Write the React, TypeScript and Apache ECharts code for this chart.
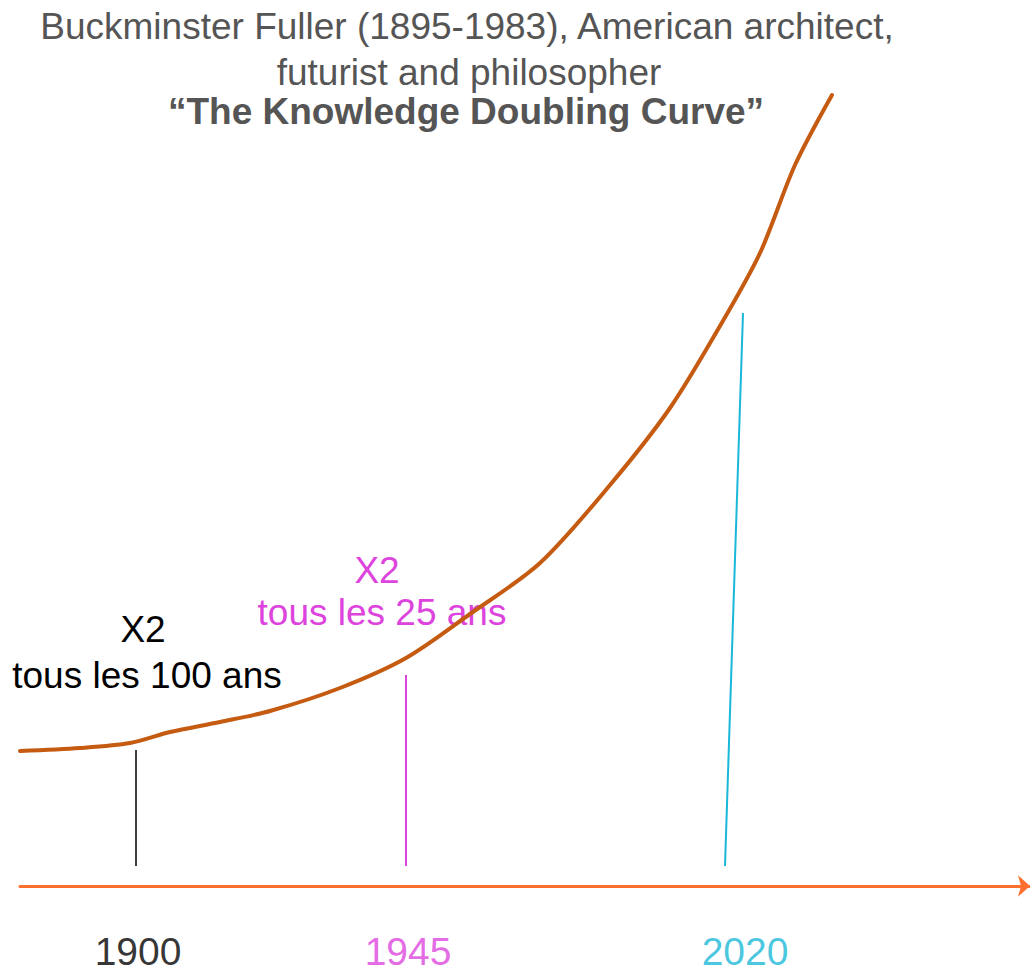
import React, { useEffect, useRef } from "react";
import * as echarts from "echarts";

// Knowledge curve (x: progress units, y: knowledge level above the time axis)
const curveX = [0, 60, 110, 150, 200, 250, 320, 386, 450, 520, 590, 650, 700, 740, 775, 812];
const curveY = [135, 138, 143, 154, 164, 175, 198, 228, 272, 323, 401, 478, 560, 633, 721, 791];

// Year markers
const years = ["1900", "1945", "2020"];
const markerBaseX = [116, 386, 705];
const markerTopX = [116, 386, 723];
const markerBaseY = [20, 20, 20];
const markerTopY = [136, 211, 573];
const yearLabelX = [118, 388, 725];
const yearLabelY = [-65, -65, -65];
const yearColors = ["#000000", "#dd44dd", "#1ab8d8"];

const titleLines = [
  "Buckminster Fuller (1895-1983), American architect,",
  "futurist and philosopher",
];
const subtitle = "\u201CThe Knowledge Doubling Curve\u201D";
const notes = [
  { x2: "X2", text: "tous les 100 ans", color: "#000000" },
  { x2: "X2", text: "tous les 25 ans", color: "#dd44dd" },
];

export default function App() {
  const ref = useRef<HTMLDivElement>(null);
  useEffect(() => {
    if (!ref.current) return;
    const chart = echarts.init(ref.current, undefined, { renderer: "svg" });
    const font = '"Liberation Sans", Arial, sans-serif';
    const txt = (text: string, x: number, y: number, size: number, fill: string, weight = "normal") => ({
      type: "text",
      x,
      y,
      z: 1,
      style: {
        text,
        fontSize: size,
        fontFamily: font,
        fontWeight: weight,
        fill,
        align: "center",
        verticalAlign: "middle",
        textAlign: "center",
        textVerticalAlign: "middle",
      },
    });
    const markerSeries = years.map((y, i) => ({
      type: "line",
      name: y,
      data: [
        [markerBaseX[i], markerBaseY[i]],
        [markerTopX[i], markerTopY[i]],
      ],
      symbol: "none",
      lineStyle: { color: yearColors[i], width: i === 0 ? 1.5 : 2 },
      z: 1,
      silent: true,
    }));
    chart.setOption({
      animation: false,
      grid: { left: 20, right: 0, top: 0, bottom: 0 },
      xAxis: {
        type: "value",
        min: 0,
        max: 1010,
        axisLine: {
          show: true,
          onZero: true,
          symbol: ["none", "arrow"],
          symbolSize: [16, 12],
          lineStyle: { color: "#ff7030", width: 3 },
        },
        axisTick: { show: false },
        axisLabel: { show: false },
        splitLine: { show: false },
      },
      yAxis: {
        type: "value",
        min: -86,
        max: 886,
        show: false,
        splitLine: { show: false },
      },
      graphic: [
        txt(titleLines[0], 467, 26, 37, "#555555"),
        txt(titleLines[1], 469, 72, 37, "#555555"),
        txt(subtitle, 466, 111, 37, "#555555", "bold"),
        txt(notes[0].x2, 143, 629, 37, notes[0].color),
        txt(notes[0].text, 147, 675, 37, notes[0].color),
        txt(notes[1].x2, 377, 570, 37, notes[1].color),
        txt(notes[1].text, 382, 612, 37, notes[1].color),
      ],
      series: [
        ...markerSeries,
        {
          type: "line",
          name: "knowledge",
          data: curveX.map((x, i) => [x, curveY[i]]),
          smooth: 0.3,
          symbol: "none",
          lineStyle: { color: "#c55a11", width: 4, cap: "round" },
          z: 3,
        },
        {
          type: "scatter",
          name: "years",
          data: years.map((y, i) => ({
            value: [yearLabelX[i], yearLabelY[i]],
            name: y,
            label: { color: yearColors[i] },
          })),
          symbolSize: 0,
          clip: false,
          label: {
            show: true,
            position: "inside",
            formatter: (p: any) => p.name,
            fontSize: 39,
            fontFamily: font,
          },
          itemStyle: { color: "transparent" },
          z: 4,
        },
      ],
    });
    return () => chart.dispose();
  }, []);
  return (
    <div
      ref={ref}
      style={{ position: "absolute", left: 0, top: 0, width: 1030, height: 972, background: "#ffffff" }}
    />
  );
}
